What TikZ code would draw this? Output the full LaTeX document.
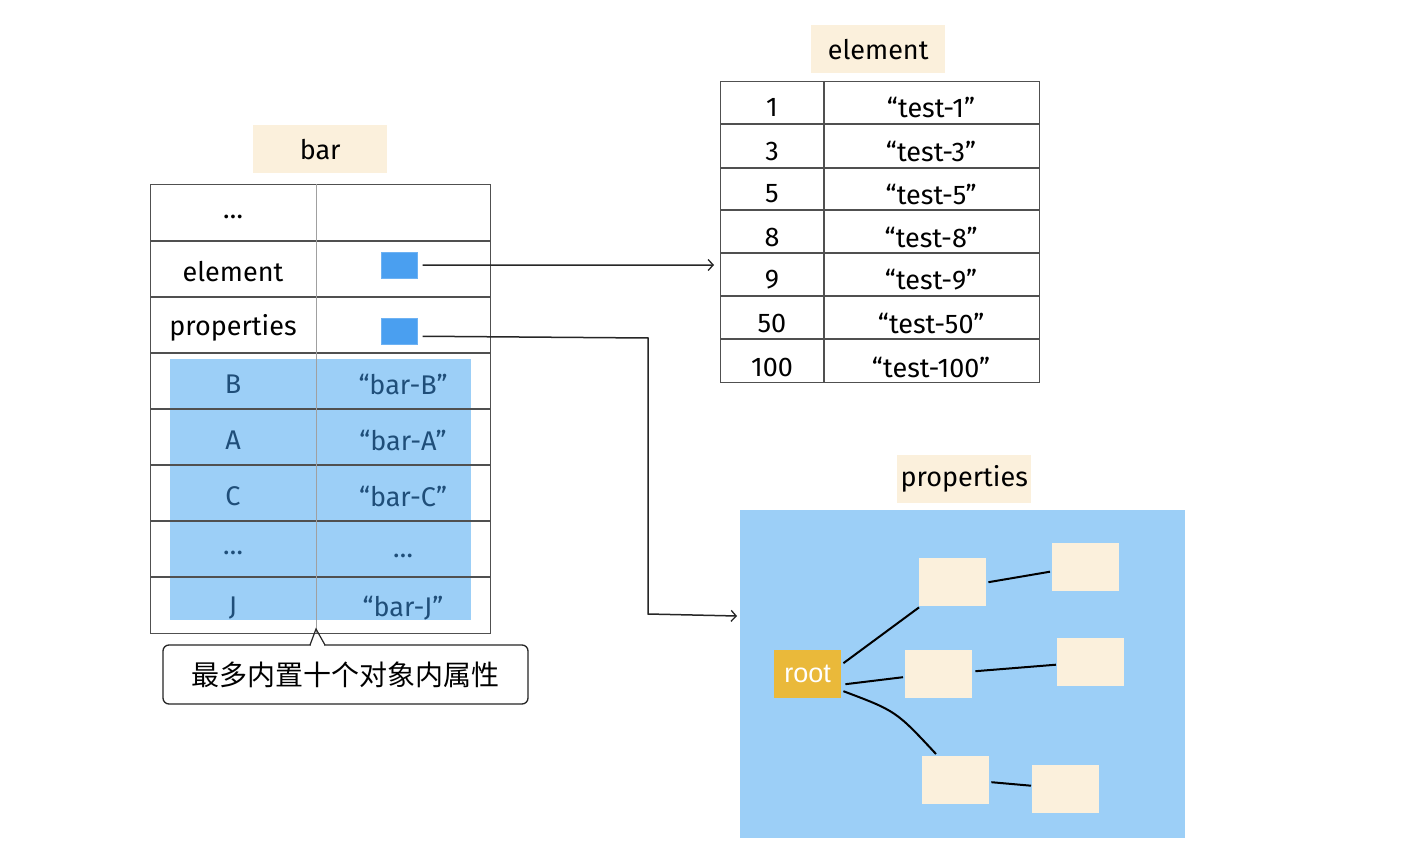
\documentclass[tikz,border=0pt]{standalone}
\usepackage{fontspec}
\setmainfont{Fira Sans}
\newfontfamily\cjk{Noto Sans CJK SC}
\newfontfamily\rootfont{Liberation Sans}
\usetikzlibrary{arrows.meta}
\definecolor{beige}{HTML}{FBF0DC}
\definecolor{lightblue}{HTML}{9CCFF7}
\definecolor{sqblue}{HTML}{4A9FF0}
\definecolor{darkblue}{HTML}{1F4E79}
\definecolor{gold}{HTML}{EAB93A}
\definecolor{gridgray}{HTML}{505050}
\definecolor{divgray}{HTML}{A0A0A0}
\tikzset{
  txt/.style={font=\fontsize{27}{32}\selectfont, inner sep=0},
  titlebox/.style={fill=beige, txt, anchor=north west, minimum width=134, minimum height=48},
  cell/.style={txt, text=black},
  bcell/.style={txt, text=darkblue},
  grid/.style={draw=gridgray, line width=1.4},
  divider/.style={draw=divgray, line width=1},
  square/.style={fill=sqblue, draw=sqblue!80!white, line width=0.5, anchor=north west, minimum width=36, minimum height=26, inner sep=0},
  conn/.style={draw=black!85, line width=1.5, -{Straight Barb[length=5pt,width=11pt,line width=1.3]}},
  leaf/.style={fill=beige, anchor=north west, minimum width=67, minimum height=48, inner sep=0},
  treeline/.style={draw=black, line width=2},
}
\begin{document}
\begin{tikzpicture}[x=1pt,y=-1pt]
\useasboundingbox[fill=white] (0,0) rectangle (1410,850);

% ---------- bar ----------
\node[titlebox] (bartitle) at (253,125) {bar};
\fill[lightblue] (170,359) rectangle (471,620);
\node[grid, anchor=north west, minimum width=340, minimum height=449, inner sep=0] (bartable) at (150,184) {};
\foreach \y in {241,297,353,409,465,521,577} {
  \draw[grid] (150,\y) -- (490,\y);
}
\draw[divider] (316,184) -- (316,633);

\node[cell] (b1) at (233,217) {…};
\node[cell] (b2) at (233,272) {element};
\node[cell] (b3) at (233,328) {properties};
\node[bcell] (b4) at (233,384) {B};
\node[bcell] (b5) at (233,440) {A};
\node[bcell] (b6) at (233,496) {C};
\node[bcell] (b7) at (233,553) {…};
\node[bcell] (b8) at (233,608) {J};
\node[bcell] (v4) at (403,384) {“bar-B”};
\node[bcell] (v5) at (403,440) {“bar-A”};
\node[bcell] (v6) at (403,496) {“bar-C”};
\node[bcell] (v7) at (403,556) {…};
\node[bcell] (v8) at (403,608) {“bar-J”};

\node[square] (elsq) at (381,252) {};
\node[square] (propsq) at (381,318) {};

% callout
\node[draw=black!85, line width=1.3, rounded corners=6, minimum width=365, minimum height=59, inner sep=0,
      font=\cjk\fontsize{28}{32}\selectfont] (note) at (345.5,674.5) {最多内置十个对象内属性};
\fill[white] (311,643) rectangle (324,647.5);
\draw[black!85, line width=1.2] (310,645) -- (316,629) -- (325,645);

% ---------- element ----------
\node[titlebox] (eltitle) at (811,25) {element};
\node[grid, anchor=north west, minimum width=319, minimum height=301, inner sep=0] (eltable) at (720,81) {};
\foreach \y in {124,168,210,253,296,339} {
  \draw[grid] (720,\y) -- (1039,\y);
}
\draw[grid] (824,81) -- (824,382);
\node[cell] (e1k) at (772,107) {1};
\node[cell] (e2k) at (772,151) {3};
\node[cell] (e3k) at (772,194) {5};
\node[cell] (e4k) at (772,237) {8};
\node[cell] (e5k) at (772,280) {9};
\node[cell] (e6k) at (772,323) {50};
\node[cell] (e7k) at (772,367) {100};
\node[cell] (e1v) at (931,107) {“test-1”};
\node[cell] (e2v) at (931,151) {“test-3”};
\node[cell] (e3v) at (931,194) {“test-5”};
\node[cell] (e4v) at (931,237) {“test-8”};
\node[cell] (e5v) at (931,280) {“test-9”};
\node[cell] (e6v) at (931,323) {“test-50”};
\node[cell] (e7v) at (931,367) {“test-100”};

% ---------- properties ----------
\node[titlebox] (proptitle) at (897,455) {properties};
\node[fill=lightblue, anchor=north west, minimum width=445, minimum height=328, inner sep=0] (propbox) at (740,510) {};
\node[fill=gold, anchor=north west, minimum width=67, minimum height=48, inner sep=0, text=white,
      font=\rootfont\fontsize{27}{32}\selectfont] (root) at (774,650) {root};
\node[leaf] (A) at (919,558) {};
\node[leaf] (B) at (1052,543) {};
\node[leaf] (C) at (905,650) {};
\node[leaf] (D) at (1057,638) {};
\node[leaf] (E) at (922,756) {};
\node[leaf] (F) at (1032,765) {};

\draw[treeline] ([shift={(2,-11)}]root.east) -- ([shift={(0,1)}]A.south west);
\draw[treeline] ([shift={(4,10)}]root.east) -- ([shift={(-2,3)}]C.west);
\draw[treeline] ([shift={(2,17)}]root.east) .. controls (896,711) .. ([shift={(14,-2)}]E.north west);
\draw[treeline] ([shift={(2,0)}]A.east) -- ([shift={(-2,4.5)}]B.west);
\draw[treeline] ([shift={(3,-3)}]C.east) -- ([shift={(-1,2.5)}]D.west);
\draw[treeline] ([shift={(2,2)}]E.east) -- ([shift={(-1,-3.5)}]F.west);

% ---------- connectors ----------
\coordinate (elend) at (714,265);
\coordinate (propend) at (737,616);
\draw[conn] ([shift={(5,0)}]elsq.east) -- (elend);
\draw[conn] ([shift={(5,5)}]propsq.east) -- (648,338) -- (648,614) -- (propend);
\end{tikzpicture}
\end{document}
